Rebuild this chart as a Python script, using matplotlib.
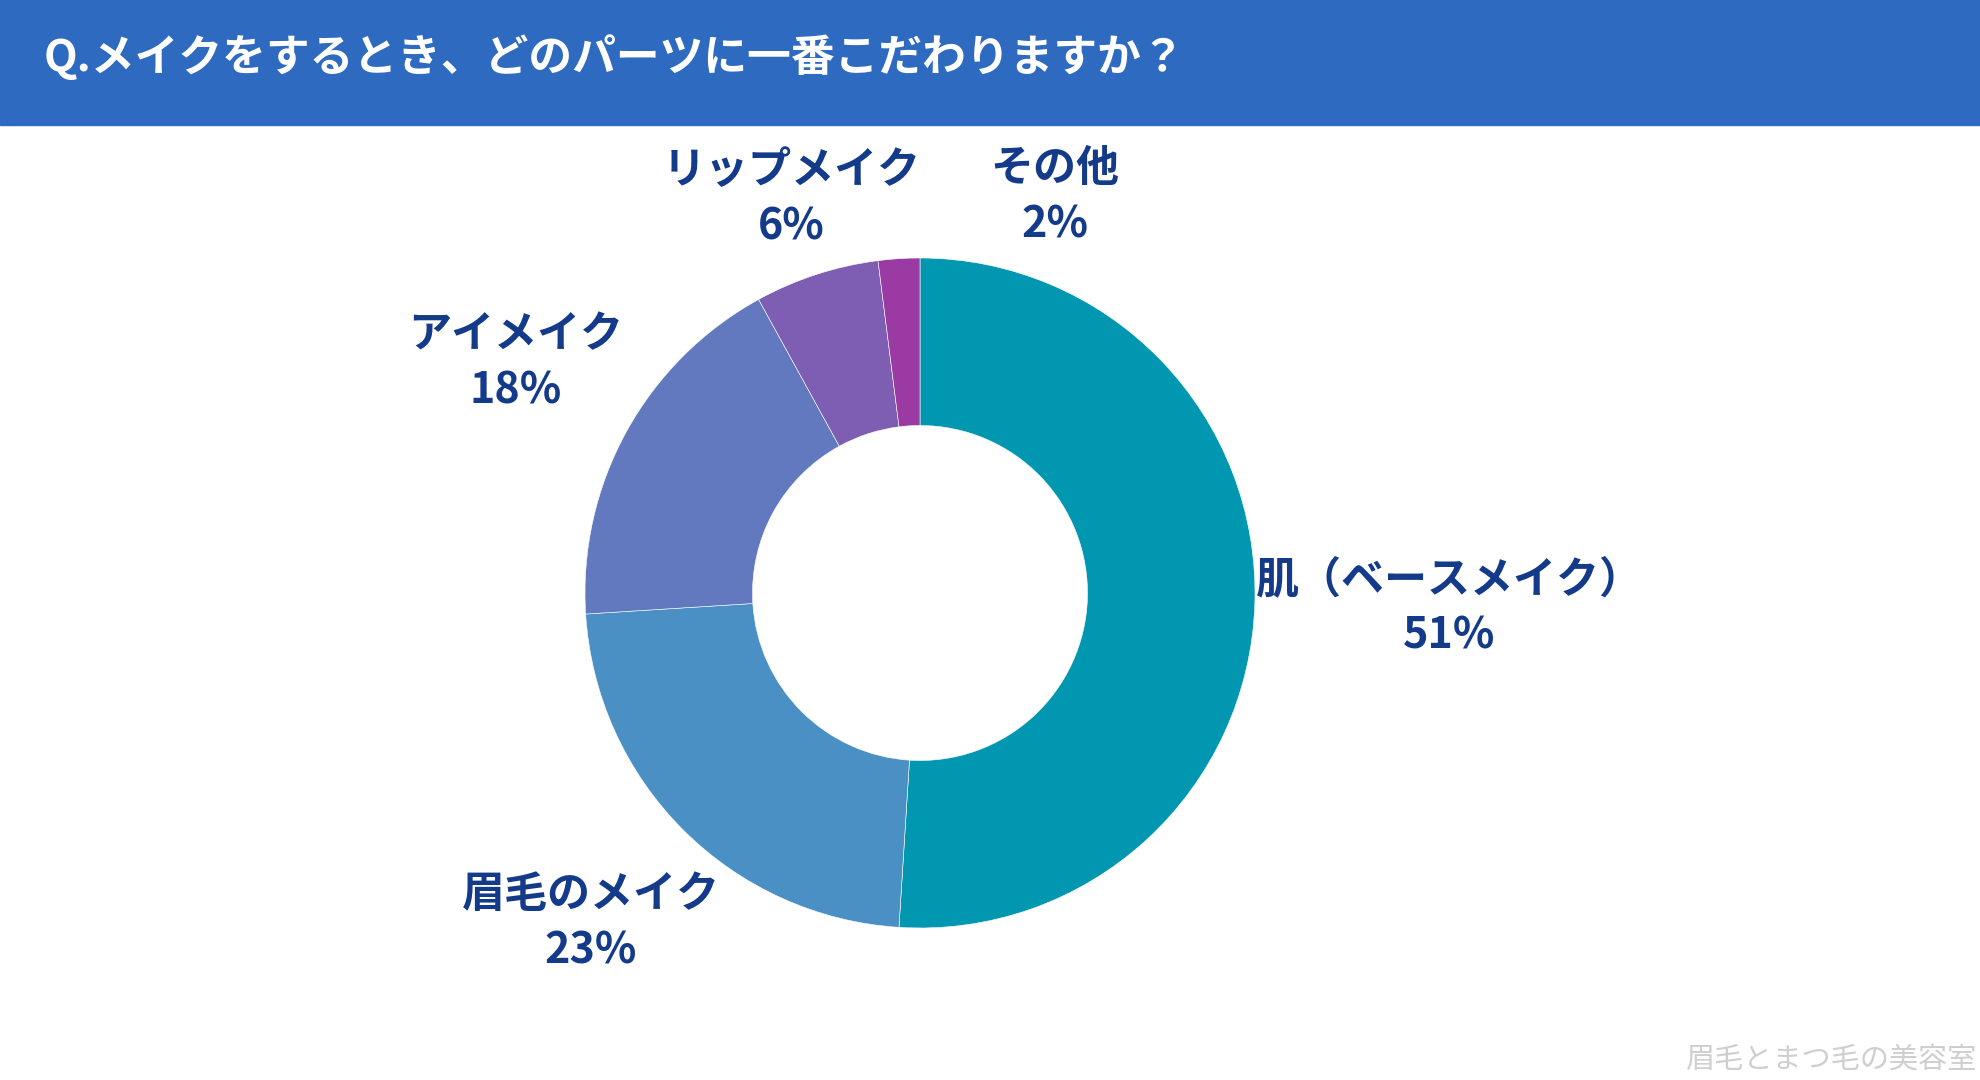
import matplotlib.pyplot as plt
from matplotlib.patches import Rectangle
import numpy as np

plt.rcParams['font.family'] = ['Noto Sans CJK JP', 'DejaVu Sans']

# ================= DATA =================
title = "Q.メイクをするとき、どのパーツに一番こだわりますか？"
labels = ["肌（ベースメイク）", "眉毛のメイク", "アイメイク", "リップメイク", "その他"]
values = [51, 23, 18, 6, 2]
colors = ["#0297B1", "#4A90C5", "#6279BF", "#7E5EB3", "#9A3AA2"]
credit = "眉毛とまつ毛の美容室"

# label placement (radius multiples, angle nudge in degrees)
label_r = [1.58, 1.39, 1.39, 1.24, 1.25]
label_shift = [0.2, 0, -0.9, 0, -22.4]

W, H = 1980, 1080
fig = plt.figure(figsize=(W / 100, H / 100), dpi=100)
ax = fig.add_axes([0, 0, 1, 1])

# ================= HEADER =================
ax.add_patch(Rectangle((0, H - 125), W, 125, color="#2E6BC0", zorder=1))
ax.text(44, H - 57, title, color="white", fontsize=31.5, fontweight='bold',
        va='center', ha='left', zorder=2)

# ================= DONUT =================
cx, cy, R = 920, 487, 335
wedges, _ = ax.pie(values, colors=colors, startangle=90, counterclock=False,
                   center=(cx, cy), radius=R, frame=True,
                   wedgeprops=dict(width=R * 0.5, edgecolor='white', linewidth=0.4))
ax.set_xlim(0, W)
ax.set_ylim(0, H)
ax.set_aspect('equal')
ax.axis('off')

for w, lab, v, r, s in zip(wedges, labels, values, label_r, label_shift):
    mid = np.deg2rad((w.theta1 + w.theta2) / 2 + s)
    x = cx + r * R * np.cos(mid)
    y = cy + r * R * np.sin(mid)
    ax.text(x, y, f"{lab}\n{v}%", color="#143A8A", fontsize=31, fontweight='bold',
            ha='center', va='center', linespacing=1.35, multialignment='center')

# ================= CREDIT =================
ax.text(W - 3, 19, credit, color="#CFCFCF", fontsize=21, ha='right', va='center')

fig.savefig("out.png", dpi=100)
